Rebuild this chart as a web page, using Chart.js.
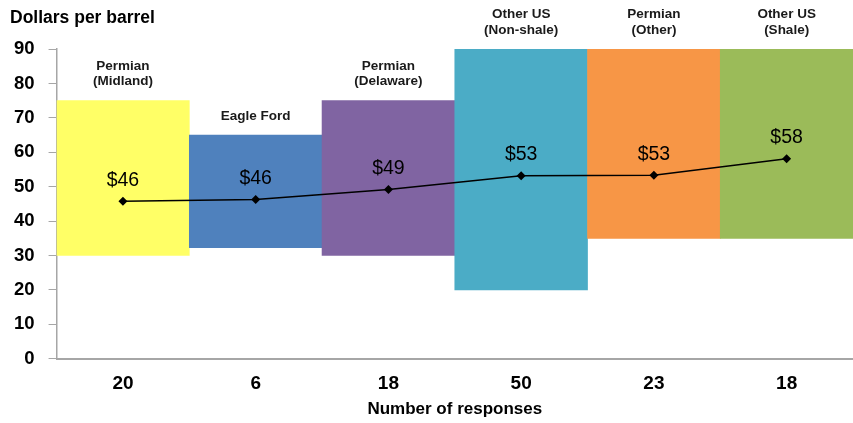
<!DOCTYPE html>
<html>
<head>
<meta charset="utf-8">
<script src="https://cdn.jsdelivr.net/npm/chart.js@4/dist/chart.umd.min.js"></script>
<style>
  html, body { margin: 0; padding: 0; background: #fff; }
  #wrap { width: 853px; height: 423px; }
</style>
</head>
<body>
<div id="wrap"><canvas id="chart"></canvas></div>
<script>
// data
const responses = ["20", "6", "18", "50", "23", "18"];
const regions = [["Permian", "(Midland)"], ["Eagle Ford"], ["Permian", "(Delaware)"],
                 ["Other US", "(Non-shale)"], ["Permian", "(Other)"], ["Other US", "(Shale)"]];
const lowValues = [30, 32.3, 30, 20, 35, 35];
const highValues = [75, 65, 75, 90, 90, 90];
const avgValues = [45.8, 46.3, 49.2, 53.2, 53.3, 58.1];
const avgLabels = ["$46", "$46", "$49", "$53", "$53", "$58"];
const barColors = ["#FFFF66", "#4F81BD", "#8064A2", "#4BACC6", "#F79646", "#9BBB59"];

const FONT = "'Liberation Sans', Arial, sans-serif";

const labelPlugin = {
    id: 'labels',
    afterDatasetsDraw(chart) {
        const ctx = chart.ctx;
        ctx.save();
        ctx.textAlign = 'center';
        ctx.textBaseline = 'middle';

        // region names above each bar (dataset 1 = bars)
        const bars = chart.getDatasetMeta(1).data;
        ctx.font = "bold 13.5px " + FONT;
        ctx.fillStyle = '#1a1a1a';
        bars.forEach((bar, i) => {
            const lines = regions[i];
            for (let j = 0; j < lines.length; j++) {
                const y = bar.y - 19 - (lines.length - 1 - j) * 15.5;
                ctx.fillText(lines[j], bar.x, y);
            }
        });

        // average price above each point (dataset 0 = line)
        const pts = chart.getDatasetMeta(0).data;
        ctx.font = "19.5px " + FONT;
        ctx.fillStyle = '#000';
        pts.forEach((p, i) => {
            ctx.fillText(avgLabels[i], p.x, p.y - 21);
        });

        // axis title at top left
        ctx.textAlign = 'left';
        ctx.font = "bold 17.5px " + FONT;
        ctx.fillText('Dollars per barrel', 10, 18);
        ctx.restore();
    }
};

new Chart(document.getElementById("chart"), {
    type: 'bar',
    data: {
        labels: responses,
        datasets: [{
            type: 'line',
            data: avgValues,
            borderColor: '#000',
            borderWidth: 1.5,
            backgroundColor: '#000',
            pointStyle: 'rectRot',
            pointRadius: 4.5,
            pointBorderWidth: 0,
            fill: false,
            order: 0
        }, {
            data: lowValues.map((v, i) => [v, highValues[i]]),
            backgroundColor: barColors,
            borderWidth: 0,
            barPercentage: 1,
            categoryPercentage: 1,
            order: 1
        }]
    },
    options: {
        responsive: true,
        maintainAspectRatio: false,
        animation: false,
        layout: { autoPadding: false, padding: { left: 0, right: 0, top: 49, bottom: 3 } },
        plugins: {
            legend: { display: false },
            tooltip: { enabled: false }
        },
        scales: {
            x: {
                grid: { display: false },
                border: { display: true, color: '#a6a6a6', width: 2 },
                ticks: {
                    color: '#000',
                    font: { family: FONT, size: 19, weight: 'bold' },
                    padding: 6
                },
                title: {
                    display: true,
                    text: 'Number of responses',
                    color: '#000',
                    font: { family: FONT, size: 17, weight: 'bold' },
                    padding: { top: -2, bottom: 0 }
                }
            },
            y: {
                min: 0,
                max: 90,
                grid: {
                    drawOnChartArea: false,
                    drawTicks: true,
                    tickLength: 8,
                    color: '#a6a6a6'
                },
                border: { display: true, color: '#a6a6a6', width: 1.5 },
                ticks: {
                    stepSize: 10,
                    color: '#000',
                    font: { family: FONT, size: 18.5, weight: 'bold' },
                    padding: 14
                }
            }
        }
    },
    plugins: [labelPlugin]
});
</script>
</body>
</html>
